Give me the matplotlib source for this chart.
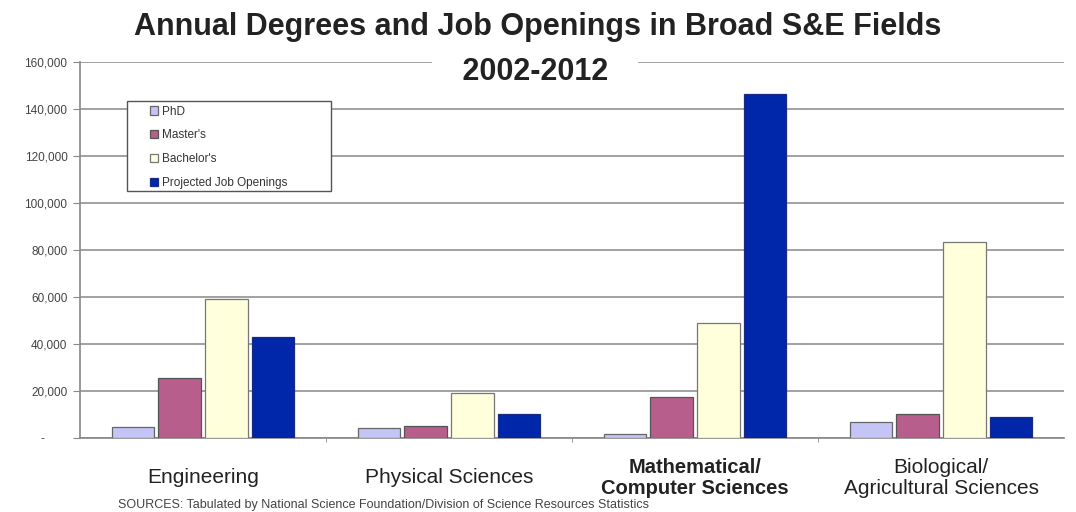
import numpy as np
import matplotlib
matplotlib.use("Agg")
import matplotlib.pyplot as plt
import matplotlib.transforms as mtransforms
from matplotlib.patches import Rectangle
from matplotlib.ticker import FuncFormatter

plt.rcParams['font.family'] = ['Liberation Sans', 'DejaVu Sans']

# data
categories = ["Engineering", "Physical Sciences", "Mathematical/\nComputer Sciences",
              "Biological/\nAgricultural Sciences"]
series_names = ["PhD", "Master's", "Bachelor's", "Projected Job Openings"]
phd = [4800, 4200, 1700, 6900]
masters = [25500, 5000, 17600, 10100]
bachelors = [59100, 19000, 49100, 83300]
job_openings = [43000, 10200, 146400, 8800]

colors = ["#C4C4F6", "#B85E8C", "#FFFFDC", "#0026A9"]
edges = ["#666666", "#555555", "#777777", "#1A2A80"]


def ytick_fmt(v, pos):
    if v == 0:
        return "-       "
    return f"{int(v):,}"


def main():
    fig = plt.figure(figsize=(10.76, 5.12), dpi=100)
    ax = fig.add_axes([80 / 1076, 1 - 438 / 512, 984 / 1076, 376 / 512])

    x = np.arange(len(categories))
    values = [phd, masters, bachelors, job_openings]
    offsets = [-0.285, -0.095, 0.095, 0.285]
    for vals, off, c, ec, name in zip(values, offsets, colors, edges, series_names):
        ax.bar(x + off, vals, width=0.172, color=c, edgecolor=ec, linewidth=0.9,
               label=name, zorder=3)

    ax.set_xlim(-0.5, 3.5)
    ax.set_ylim(0, 160000)
    ax.set_yticks(np.arange(0, 160001, 20000))
    ax.yaxis.set_major_formatter(FuncFormatter(ytick_fmt))
    ax.tick_params(axis='y', direction='out', length=5, color='#888888',
                   labelsize=8.5, labelcolor='#444444', pad=4)
    ax.yaxis.grid(True, color='#9a9a9a', linewidth=1.3, zorder=0)
    ax.set_axisbelow(True)

    ax.set_xticks([])
    ax.set_xticks([0.5, 1.5, 2.5], minor=True)
    ax.tick_params(axis='x', which='minor', direction='out', length=3, color='#888888')

    for s in ['top', 'right']:
        ax.spines[s].set_visible(False)
    for s in ['left', 'bottom']:
        ax.spines[s].set_color('#888888')
        ax.spines[s].set_linewidth(1.2)

    # category labels
    trans = mtransforms.blended_transform_factory(ax.transData, ax.transAxes)
    for i, lab in enumerate(categories):
        bold = lab.startswith("Mathematical")
        ax.text(i, -0.106, lab, transform=trans, ha='center', va='center',
                fontsize=14.5 if bold else 15, fontweight='bold' if bold else 'normal',
                color='#222222', linespacing=1.1)

    # legend box
    box = Rectangle((0.0478, 0.657), 0.2073, 0.2393, transform=ax.transAxes,
                    facecolor='white', edgecolor='#555555', linewidth=1.0, zorder=4)
    ax.add_patch(box)
    leg = ax.legend(loc='upper left', bbox_to_anchor=(0.0711, 0.884), frameon=False,
                    fontsize=8.5, handlelength=0.7, handleheight=0.7,
                    handletextpad=0.3, labelspacing=1.0, borderpad=0, borderaxespad=0)
    leg.set_zorder(5)
    for t in leg.get_texts():
        t.set_color('#333333')

    fig.text(0.5, 1 - 27 / 512, "Annual Degrees and Job Openings in Broad S&E Fields",
             ha='center', va='center', fontsize=22, fontweight='bold', color='#222222')
    fig.text(535 / 1076, 1 - 72 / 512, "   2002-2012   ", ha='center', va='center',
             fontsize=22, fontweight='bold', color='#222222',
             bbox=dict(boxstyle='square,pad=0.15', facecolor='white', edgecolor='none'))
    fig.text(118 / 1076, 1 - 505 / 512,
             "SOURCES: Tabulated by National Science Foundation/Division of Science Resources Statistics",
             ha='left', va='center', fontsize=9, color='#444444')

    fig.savefig("out.png", dpi=100)


if __name__ == "__main__":
    main()
